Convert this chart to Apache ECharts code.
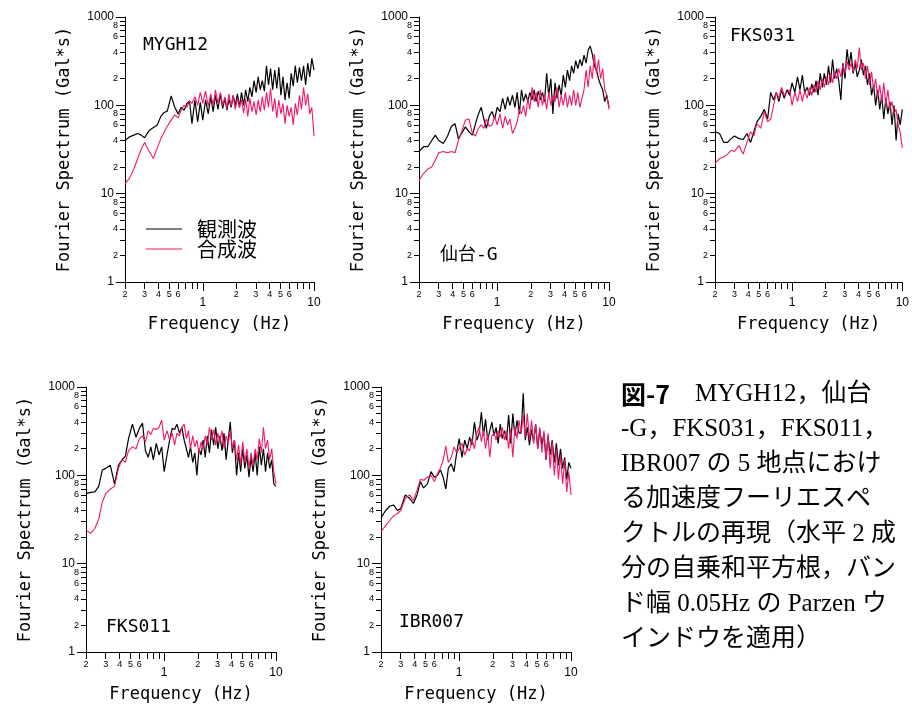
<!DOCTYPE html>
<html><head><meta charset="utf-8">
<script src="https://cdn.jsdelivr.net/npm/echarts@6/dist/echarts.min.js"></script>
<style>html,body{margin:0;padding:0;background:#fff}#c{width:912px;height:709px}</style>
</head><body><div id="c"></div>
<script>
// ---- data ----
const freq = [0.20,0.22,0.24,0.26,0.28,0.30,0.33,0.36,0.39,0.42,
 0.45,0.48,0.52,0.56,0.60,0.64,0.68,0.72,0.76,0.80,
 0.85,0.90,0.95,1.00,1.06,1.12,1.18,1.24,1.30,1.37,
 1.44,1.51,1.58,1.65,1.72,1.80,1.88,1.96,2.05,2.14,
 2.23,2.33,2.43,2.54,2.65,2.77,2.89,3.02,3.15,3.29,
 3.43,3.58,3.74,3.90,4.07,4.25,4.44,4.63,4.83,5.04,
 5.26,5.49,5.73,5.98,6.24,6.51,6.79,7.09,7.40,7.72,
 8.06,8.41,8.78,9.16,9.56,10.0];

const stationNames = ['MYGH12','仙台-G','FKS031','FKS011','IBR007'];
const seriesNames = ['観測波','合成波'];

const obsMYGH12 = [40,44,46,48,46,43,52,56,60,75,
 83,86,128,95,80,95,88,105,112,62,
 115,65,108,68,115,80,125,85,130,90,
 135,92,120,88,118,95,130,100,135,95,
 140,100,150,110,160,125,190,140,210,150,
 190,145,280,170,260,150,250,155,270,130,
 210,115,180,120,230,165,280,180,270,190,
 280,170,300,210,340,250];
const synMYGH12 = [13,15,19,25,32,38,30,25,33,42,
 50,58,68,78,72,88,100,95,112,105,
 125,100,140,105,145,98,135,100,150,105,
 140,100,125,92,135,98,130,90,120,95,
 115,82,118,75,120,85,110,78,115,85,
 125,88,140,95,155,85,120,72,115,80,
 105,62,100,75,95,60,105,78,130,90,
 160,100,135,80,95,45];

const obsSendai = [30,34,34,40,46,40,37,45,58,62,
 42,48,57,50,46,62,80,95,70,55,
 75,85,70,95,85,120,90,125,100,130,
 95,140,80,150,110,135,110,140,115,150,
 110,145,115,140,110,230,130,200,80,180,
 120,170,130,220,160,250,190,280,230,320,
 260,330,280,370,300,420,470,380,280,250,
 200,170,150,110,130,95];
const synSendai = [14,17,19,20,24,29,30,29,30,29,
 40,50,68,70,48,45,55,60,55,70,
 58,60,75,60,80,55,75,60,70,48,
 55,65,90,80,100,75,120,90,160,110,
 140,95,150,100,130,90,140,100,130,110,
 160,95,130,100,140,95,130,100,150,100,
 140,95,120,150,250,160,280,200,380,230,
 330,200,260,150,130,90];

const obsFKS031 = [50,48,38,38,42,45,42,41,48,38,
 50,65,75,90,70,140,115,140,110,150,
 120,150,130,180,140,210,150,220,140,160,
 130,175,140,190,130,230,160,230,170,280,
 180,330,200,260,190,115,300,200,430,280,
 400,230,300,210,250,330,220,280,170,230,
 130,170,100,150,90,130,70,120,80,110,
 60,100,40,80,60,90];
const synFKS031 = [22,25,26,28,31,30,35,28,38,50,
 45,62,55,85,65,70,100,140,120,160,
 130,140,150,100,140,110,150,110,145,120,
 160,130,170,140,190,150,200,160,210,170,
 230,180,240,200,260,210,290,230,320,250,
 300,240,330,260,450,250,300,200,280,170,
 240,150,200,120,170,110,180,100,150,90,
 110,80,90,60,50,33];

const obsFKS011 = [62,64,65,75,115,120,130,80,130,150,
 165,260,380,270,340,390,190,160,210,150,
 230,170,210,110,170,250,340,330,380,300,
 350,250,200,160,210,140,180,100,200,170,
 250,160,280,180,330,220,350,200,280,190,
 300,150,250,400,180,250,100,180,110,200,
 120,170,95,160,110,180,100,210,130,200,
 110,180,120,150,80,75];
const synFKS011 = [24,22,25,32,50,62,70,75,120,150,
 140,190,210,200,260,280,240,320,290,340,
 330,350,420,250,320,250,300,220,300,280,
 350,380,260,320,200,280,210,250,180,240,
 200,280,220,350,250,330,220,300,240,320,
 200,280,230,320,200,250,150,220,130,240,
 140,200,120,180,130,200,150,260,180,350,
 200,250,150,200,110,80];

const obsIBR007 = [33,40,45,46,40,42,60,55,48,60,
 85,72,80,110,95,100,115,95,70,120,
 135,110,180,260,160,250,200,270,220,400,
 250,300,520,280,430,250,320,400,280,350,
 230,380,260,320,250,480,230,500,280,420,
 300,300,850,250,350,220,330,240,380,200,
 330,220,300,150,280,170,250,140,230,130,
 200,120,160,90,140,120];
const synIBR007 = [23,27,31,35,37,40,55,60,52,68,
 90,88,95,100,85,105,120,150,215,140,
 160,210,180,200,230,170,200,190,260,200,
 300,350,240,320,200,300,160,280,300,250,
 320,270,350,250,320,200,330,160,350,260,
 420,300,480,270,500,250,420,230,380,200,
 350,180,320,150,300,120,240,100,200,90,
 170,80,150,65,110,60];

const obsAll = [obsMYGH12, obsSendai, obsFKS031, obsFKS011, obsIBR007];
const synAll = [synMYGH12, synSendai, synFKS031, synFKS011, synIBR007];

// tick / label values
const xTickValues = [0.2,0.3,0.4,0.5,0.6,0.7,0.8,0.9,1,2,3,4,5,6,7,8,9,10];
const xMinorLabels = [0.2,0.3,0.4,0.5,0.6,2,3,4,5,6];
const xMajorValues = [1,10];
const yTickValues = [1,2,3,4,5,6,7,8,9,10,20,30,40,50,60,70,80,90,100,200,300,400,500,600,700,800,900,1000];
const yMinorLabels = [2,4,6,8,20,40,60,80,200,400,600,800];
const yMajorValues = [1,10,100,1000];

const captionLines = ['{g|図-7}　MYGH12，仙台','-G，FKS031，FKS011，','IBR007 の 5 地点におけ','る加速度フーリエスペ','クトルの再現（水平 2 成','分の自乗和平方根，バン','ド幅 0.05Hz の Parzen ウ','インドウを適用）'];

// ---- layout ----
const grids = [
 {left:125, top:17, width:189, height:265},
 {left:419, top:17, width:190, height:265},
 {left:715, top:17, width:190, height:265},
 {left:86, top:387, width:190, height:265},
 {left:381, top:387, width:190, height:265}
];
const labelPos = [[143,36],[440,246],[730,27],[106,618],[399,613]];

const BLACK = '#000';
const PINK = '#f5166b';
const mono = '"DejaVu Sans Mono", "Noto Sans CJK JP", monospace';
const minorFmt = v => String(Math.round(v / Math.pow(10, Math.floor(Math.log10(v) + 1e-9))));

const xAxis = [], yAxis = [], series = [], title = [];
grids.forEach((g, i) => {
  xAxis.push({type:'log', logBase:10, gridIndex:i, min:0.2, max:10, position:'bottom',
    axisLine:{show:true, onZero:false, lineStyle:{color:BLACK, width:1}},
    axisTick:{show:true, length:7, customValues:xTickValues, lineStyle:{color:BLACK}},
    axisLabel:{show:true, customValues:xMinorLabels, formatter:minorFmt, fontSize:9, margin:8, color:BLACK, fontFamily:'Liberation Sans'},
    splitLine:{show:false}});
  xAxis.push({type:'log', logBase:10, gridIndex:i, min:0.2, max:10, position:'bottom',
    axisLine:{show:false, onZero:false},
    axisTick:{show:true, length:9, customValues:xMajorValues, lineStyle:{color:BLACK}},
    axisLabel:{show:true, customValues:xMajorValues, formatter:v => String(Math.round(v)), fontSize:12, margin:15, color:BLACK, fontFamily:'Liberation Sans'},
    splitLine:{show:false},
    name:'Frequency (Hz)', nameLocation:'middle', nameGap:34,
    nameTextStyle:{fontFamily:mono, fontSize:17, color:BLACK}});
  yAxis.push({type:'log', logBase:10, gridIndex:i, min:1, max:1000, position:'left',
    axisLine:{show:true, onZero:false, lineStyle:{color:BLACK, width:1}},
    axisTick:{show:true, length:5, customValues:yTickValues, lineStyle:{color:BLACK}},
    axisLabel:{show:true, customValues:yMinorLabels, formatter:minorFmt, fontSize:9, margin:7, color:BLACK, fontFamily:'Liberation Sans'},
    splitLine:{show:false}});
  yAxis.push({type:'log', logBase:10, gridIndex:i, min:1, max:1000, position:'left',
    axisLine:{show:false, onZero:false},
    axisTick:{show:true, length:9, customValues:yMajorValues, lineStyle:{color:BLACK}},
    axisLabel:{show:true, customValues:yMajorValues, formatter:v => String(Math.round(v)), fontSize:12, margin:11, color:BLACK, fontFamily:'Liberation Sans'},
    splitLine:{show:false},
    name:'Fourier Spectrum (Gal*s)', nameLocation:'middle', nameGap:52,
    nameTextStyle:{fontFamily:mono, fontSize:17, color:BLACK}});
  series.push({name:seriesNames[0], type:'line', xAxisIndex:2*i, yAxisIndex:2*i,
    data:freq.map((f,k) => [f, obsAll[i][k]]), symbol:'none', smooth:false,
    lineStyle:{color:BLACK, width:1.2}, itemStyle:{color:BLACK}, animation:false});
  series.push({name:seriesNames[1], type:'line', xAxisIndex:2*i, yAxisIndex:2*i,
    data:freq.map((f,k) => [f, synAll[i][k]]), symbol:'none', smooth:false,
    lineStyle:{color:PINK, width:1.1}, itemStyle:{color:PINK}, animation:false});
  title.push({text:stationNames[i], left:labelPos[i][0], top:labelPos[i][1], padding:0,
    textStyle:{fontFamily:mono, fontSize:18, fontWeight:'normal', color:BLACK}});
});

const graphic = captionLines.map((t, i) => ({
  type:'text', left:621, top:382 + 35*i, silent:true,
  style:{text:t, fill:BLACK, font:'25px "Liberation Serif", "Noto Sans CJK JP", serif',
    rich:{g:{fontFamily:'"Noto Sans CJK JP"', fontSize:25, fontWeight:'bold', fill:BLACK}}}
}));

const chart = echarts.init(document.getElementById('c'), null, {renderer:'canvas'});
chart.setOption({
  animation:false,
  backgroundColor:'#fff',
  title:title,
  grid:grids,
  xAxis:xAxis,
  yAxis:yAxis,
  series:series,
  legend:{data:seriesNames, left:146, top:219, orient:'vertical', padding:0,
    icon:'rect', itemWidth:36, itemHeight:1.2, itemGap:0,
    textStyle:{fontSize:20, fontFamily:'"Noto Sans CJK JP"', color:BLACK, lineHeight:20, padding:[0,0,0,10]}},
  graphic:graphic
});
</script></body></html>
